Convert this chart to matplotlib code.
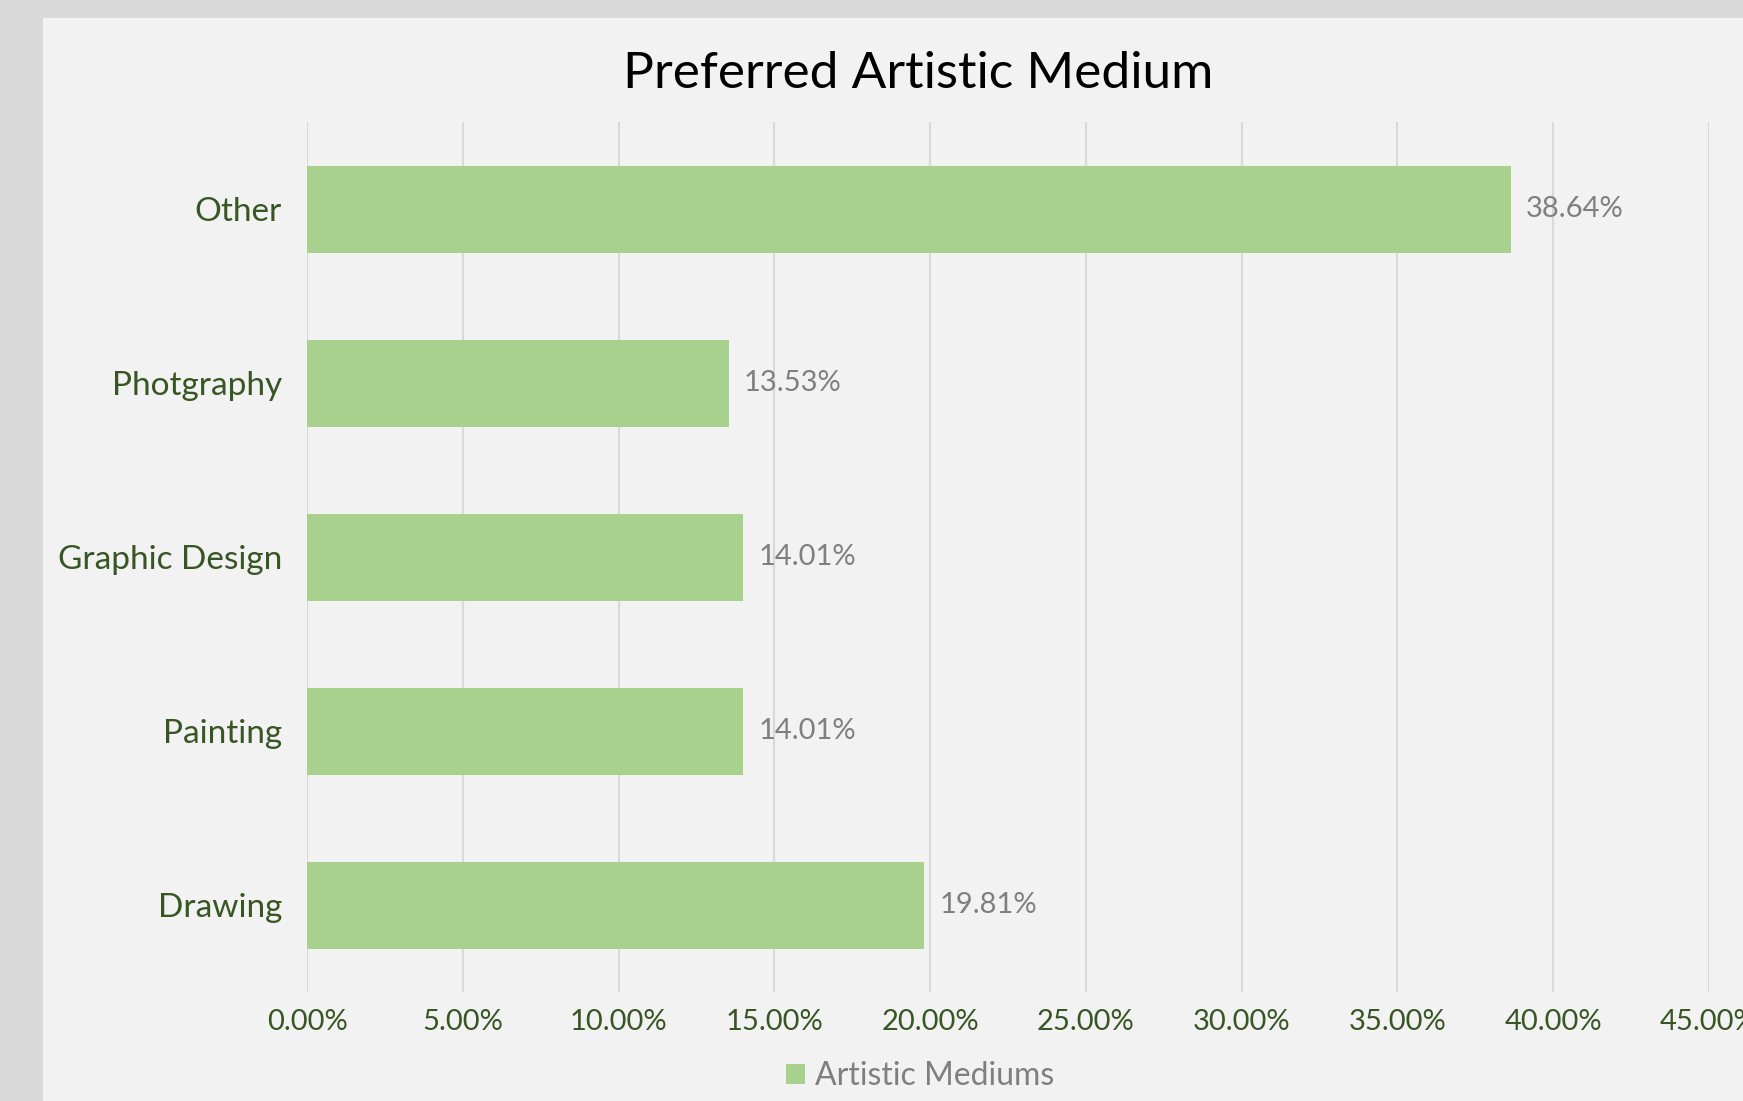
import matplotlib
matplotlib.use("Agg")
from matplotlib import pyplot as plt
from matplotlib.patches import Rectangle
from matplotlib.ticker import FuncFormatter, MultipleLocator

categories = ["Drawing", "Painting", "Graphic Design", "Photgraphy", "Other"]
shares = [19.81, 14.01, 14.01, 13.53, 38.64]
x_max = 45

bar_color = "#a9d18e"
green = "#375623"
grey_txt = "#7f7f7f"
grid_col = "#d9d9d9"

plt.rcParams["font.family"] = ["Lato", "DejaVu Sans"]

W, H = 1743, 1101
fig = plt.figure(figsize=(W / 100, H / 100), dpi=100)
fig.patch.set_facecolor("#d9d9d9")
# chart panel (cropped on right and bottom)
fig.patches.append(Rectangle((43 / W, 0), 1 - 43 / W, 1 - 18 / H,
                             transform=fig.transFigure, facecolor="#f2f2f2",
                             edgecolor="none", zorder=-10))

ax = fig.add_axes([307 / W, 1 - 992 / H, (1709 - 307) / W, (992 - 122) / H])
ax.set_facecolor("none")

bars = ax.barh(categories, shares, height=0.5, color=bar_color, zorder=2,
               label="Artistic Mediums")
for rect, v in zip(bars, shares):
    ax.annotate(f"{v:.2f}%", (rect.get_width(), rect.get_y() + rect.get_height() / 2),
                xytext=(11, 0), textcoords="offset points", va="center", ha="left",
                fontsize=21, color=grey_txt)

ax.set_xlim(0, x_max)
ax.set_ylim(-0.5, len(categories) - 0.5)
ax.xaxis.set_major_locator(MultipleLocator(5))
ax.xaxis.set_major_formatter(FuncFormatter(lambda v, p: f"{v:.2f}%"))
ax.grid(axis="x", color=grid_col, linewidth=1.5, zorder=1)
ax.tick_params(axis="both", length=0, labelcolor=green, labelsize=21)
ax.tick_params(axis="x", pad=12)
ax.tick_params(axis="y", pad=18, labelsize=24)
for s in ax.spines.values():
    s.set_visible(False)

fig.text(918 / W, 1 - 74 / H, "Preferred Artistic Medium", ha="center", va="center",
         fontsize=37, color="black")

leg = fig.legend(handles=[bars], labels=["Artistic Mediums"], loc="center",
                 bbox_to_anchor=(920 / W, 1 - 1076 / H), frameon=False, fontsize=23,
                 handlelength=0.6, handleheight=0.6, handletextpad=0.3)
for t in leg.get_texts():
    t.set_color(grey_txt)

fig.savefig("out.png", dpi=100, facecolor=fig.get_facecolor())
